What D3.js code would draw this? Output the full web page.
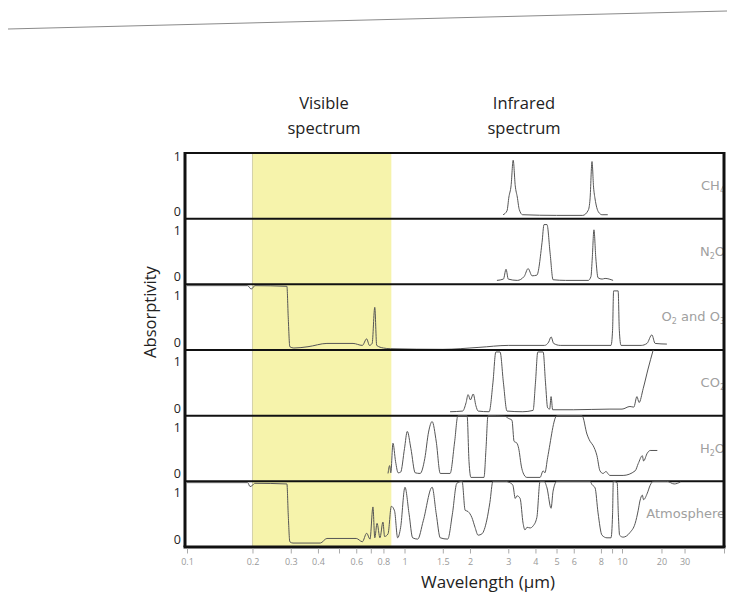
<!DOCTYPE html>
<meta charset="utf-8">
<style>
body { margin: 0; background: #fff; }
text { font-family: "Open Sans", sans-serif; }
.curve { fill: none; stroke: #555; stroke-width: 1; }
.sep { stroke: #111; stroke-width: 2; }
.ylab { font-size: 12.5px; fill: #222; }
.gas { font-family: "DejaVu Sans", sans-serif; font-size: 13px; fill: #a0a0a0; }
.xaxis text { font-size: 9px; fill: #999; }
.xaxis line { stroke: #aaa; }
</style>
<body>
<script src="https://d3js.org/d3.v7.min.js"></script>
<script>

// panels, top to bottom
var gases = ["CH4", "N2O", "O2O3", "CO2", "H2O", "Atmosphere"];

// [wavelength in um, absorptivity]
var ch4 = [[2.84,0.06],[2.96,0.12],[3.02,0.33],[3.09,0.5],[3.16,0.89],[3.23,0.5],[3.3,0.33],[3.37,0.14],[3.49,0.06],
  [5.0,0.05],[6.6,0.05],[7.0,0.13],[7.13,0.3],[7.28,0.87],[7.4,0.48],[7.52,0.3],[7.8,0.1],[8.1,0.06],[8.6,0.06]];

var n2o = [[2.66,0.06],[2.85,0.08],[2.93,0.23],[3.0,0.08],[3.3,0.06],[3.55,0.12],[3.7,0.24],[3.86,0.13],[4.06,0.14],
  [4.29,0.64],[4.38,0.91],[4.52,0.91],[4.67,0.48],[4.82,0.07],[5.5,0.06],[7.0,0.06],[7.2,0.12],[7.3,0.4],
  [7.43,0.83],[7.58,0.4],[7.76,0.1],[8.1,0.08],[8.36,0.09],[9.1,0.06]];

var o2o3 = [[0.1,0.98],[0.19,0.98],[0.197,0.93],[0.2,0.94],[0.205,0.98],[0.288,0.97],[0.292,0.5],[0.297,0.05],
  [0.31,0.03],[0.36,0.05],[0.44,0.1],[0.58,0.1],[0.64,0.07],[0.67,0.17],[0.69,0.07],[0.71,0.1],[0.73,0.65],
  [0.745,0.07],[0.8,0.03],[0.86,0.02],[1.5,0.01],[2.2,0.04],[3.0,0.07],[4.4,0.07],[4.6,0.12],[4.72,0.2],
  [4.85,0.1],[5.2,0.07],[8.9,0.07],[9.05,0.3],[9.15,0.9],[9.6,0.9],[9.72,0.3],[9.9,0.07],[14,0.07],
  [15.5,0.1],[16.9,0.23],[17.9,0.1],[22,0.09]];

var co2 = [[1.62,0.06],[1.85,0.07],[1.92,0.2],[1.96,0.32],[2.01,0.24],[2.07,0.33],[2.13,0.15],[2.18,0.07],
  [2.45,0.06],[2.55,0.5],[2.63,0.97],[2.75,0.97],[2.85,0.5],[2.96,0.07],[3.5,0.06],[3.9,0.08],[4.0,0.5],
  [4.1,0.97],[4.34,0.97],[4.45,0.5],[4.55,0.12],[4.65,0.1],[4.72,0.29],[4.8,0.09],[6,0.09],[8.8,0.1],
  [10.0,0.1],[11.5,0.14],[12.3,0.13],[13.0,0.29],[13.5,0.2],[14.5,0.41],[15.8,0.71],[17.3,1.0]];

var h2o = [[0.84,0.12],[0.855,0.24],[0.865,0.13],[0.885,0.58],[0.91,0.3],[0.935,0.13],[0.96,0.14],[1.0,0.5],
  [1.03,0.76],[1.07,0.5],[1.12,0.13],[1.18,0.12],[1.24,0.35],[1.29,0.75],[1.34,0.91],[1.40,0.6],[1.46,0.12],
  [1.62,0.12],[1.7,0.6],[1.76,1.0],[1.94,1.0],[1.98,0.3],[2.02,0.06],[2.32,0.06],[2.37,0.5],[2.42,1.0],
  [2.9,0.99],[3.0,0.96],[3.12,0.93],[3.19,0.61],[3.29,0.58],[3.35,0.5],[3.45,0.22],[3.51,0.13],[3.65,0.06],
  [4.2,0.06],[4.34,0.16],[4.42,0.13],[4.55,0.36],[5.02,1.0],[6.55,1.0],[6.9,0.72],[7.13,0.61],[7.35,0.55],
  [7.67,0.39],[7.92,0.16],[8.18,0.12],[8.45,0.15],[8.6,0.12],[8.8,0.09],[10.2,0.09],[12.6,0.16],[13.3,0.27],
  [14.3,0.39],[14.6,0.31],[15.6,0.43],[16.4,0.47],[18.6,0.47]];

var atm = [[0.1,0.98],[0.19,0.98],[0.195,0.92],[0.2,0.94],[0.205,0.97],[0.288,0.96],[0.292,0.5],[0.297,0.08],
  [0.307,0.06],[0.41,0.06],[0.44,0.13],[0.6,0.13],[0.64,0.08],[0.67,0.21],[0.694,0.12],[0.716,0.61],
  [0.73,0.14],[0.748,0.36],[0.771,0.14],[0.796,0.38],[0.81,0.16],[0.84,0.2],[0.87,0.62],[0.9,0.55],
  [0.93,0.14],[0.96,0.3],[1.005,0.91],[1.05,0.5],[1.09,0.14],[1.15,0.12],[1.22,0.4],[1.34,0.91],[1.40,0.5],
  [1.46,0.14],[1.58,0.12],[1.66,0.5],[1.74,0.97],[1.84,1.0],[1.9,0.56],[1.96,0.54],[2.04,0.45],[2.11,0.3],
  [2.18,0.18],[2.27,0.2],[2.39,0.41],[2.47,0.68],[2.55,1.0],[2.9,1.0],[3.05,0.98],[3.15,0.94],[3.23,0.74],
  [3.29,0.78],[3.4,0.74],[3.51,0.36],[3.58,0.26],[3.66,0.3],[3.78,0.29],[3.9,0.32],[4.06,0.45],[4.2,1.0],
  [4.38,1.0],[4.52,0.9],[4.72,0.59],[4.82,0.85],[5.02,1.0],[7.13,1.0],[7.28,0.95],[7.52,0.9],[7.76,0.52],
  [8.09,0.18],[8.53,0.14],[8.9,0.14],[9.05,0.5],[9.12,1.0],[9.5,0.98],[9.62,0.5],[9.75,0.18],[10.2,0.15],
  [11.5,0.22],[12.6,0.36],[13.3,0.56],[13.7,0.7],[14.3,0.79],[14.6,0.72],[15.6,0.82],[16.4,0.94],[17.3,1.0],
  [22,1.0],[25,0.96],[27.9,0.99]];

var series = [ch4, n2o, o2o3, co2, h2o, atm];

var xTickLabels = [0.1,0.2,0.3,0.4,0.6,0.8,1,1.5,2,3,4,5,6,8,10,20,30];
var xTickMinor = [0.5,0.7,9,60];
var visibleBand = [0.2, 0.87];

var W = 754, H = 614;
var plotL = 185, plotR = 724, plotT = 153, plotB = 547;

var svg = d3.select("body").append("svg")
    .attr("width", W)
    .attr("height", H);

svg.append("rect").attr("width", W).attr("height", H).attr("fill", "#fff");

// edge of the page above the figure
svg.append("line")
    .attr("x1", 8).attr("y1", 29).attr("x2", 727).attr("y2", 11)
    .attr("stroke", "#8a8a8a").attr("stroke-width", 1);

// log axis, squeezed past 10 um
var x = d3.scaleLog()
    .domain([0.1, 10, 60])
    .range([plotL + 2, 622, plotR]);

var band = d3.scaleBand()
    .domain(gases)
    .range([plotT, plotB]);

// visible spectrum band
svg.append("rect")
    .attr("x", x(visibleBand[0]))
    .attr("y", plotT)
    .attr("width", x(visibleBand[1]) - x(visibleBand[0]))
    .attr("height", plotB - plotT)
    .attr("fill", "#f6f3ab");
svg.append("line")
    .attr("x1", x(visibleBand[0])).attr("x2", x(visibleBand[0]))
    .attr("y1", plotT).attr("y2", plotB)
    .attr("stroke", "#c9c7a0").attr("stroke-width", 0.8);

var gasNames = [
  [["CH", 0], ["4", 1]],
  [["N", 0], ["2", 1], ["O", 0]],
  [["O", 0], ["2", 1], [" and O", 0], ["3", 1]],
  [["CO", 0], ["2", 1]],
  [["H", 0], ["2", 1], ["O", 0]],
  [["Atmosphere", 0]]
];

gases.forEach(function(g, i) {
  var y0 = band(g), y1 = y0 + band.bandwidth();
  var y = d3.scaleLinear().domain([0, 1]).range([y1, y0]);

  var line = d3.line()
      .x(function(d) { return x(d[0]); })
      .y(function(d) { return y(d[1]); })
      .curve(d3.curveMonotoneX);

  svg.append("path")
      .datum(series[i])
      .attr("class", "curve")
      .attr("d", line);

  var t = svg.append("text")
      .attr("class", "gas")
      .attr("x", plotR + 1)
      .attr("y", (y0 + y1) / 2 + 4)
      .attr("text-anchor", "end");
  gasNames[i].forEach(function(p, k) {
    t.append("tspan")
      .text(p[0])
      .attr("font-size", p[1] ? "8px" : null)
      .attr("dy", p[1] ? 3 : (k > 0 ? -3 : 0));
  });

  // 0 and 1 labels
  svg.append("text").attr("class", "ylab")
      .attr("x", 181).attr("y", y1 - 3)
      .attr("text-anchor", "end").text("0");
  svg.append("text").attr("class", "ylab")
      .attr("x", 181).attr("y", i === 0 ? y0 + 8 : y0 + 16)
      .attr("text-anchor", "end").text("1");

  if (i < gases.length - 1) {
    svg.append("line").attr("class", "sep")
        .attr("x1", plotL).attr("x2", plotR)
        .attr("y1", y1).attr("y2", y1);
  }
});

// frame
svg.append("line").attr("x1", plotL).attr("x2", plotR).attr("y1", plotT).attr("y2", plotT)
    .attr("stroke", "#111").attr("stroke-width", 2);
svg.append("line").attr("x1", plotL - 1.5).attr("x2", plotR + 1.5).attr("y1", plotB).attr("y2", plotB)
    .attr("stroke", "#111").attr("stroke-width", 3);
svg.append("line").attr("x1", plotL).attr("x2", plotL).attr("y1", plotT - 1).attr("y2", plotB)
    .attr("stroke", "#111").attr("stroke-width", 3);
svg.append("line").attr("x1", plotR).attr("x2", plotR).attr("y1", plotT - 1).attr("y2", plotB)
    .attr("stroke", "#111").attr("stroke-width", 3);

// x axis
var xAxis = d3.axisBottom(x)
    .tickValues(xTickLabels.concat(xTickMinor))
    .tickSize(5)
    .tickPadding(5)
    .tickFormat(function(d) { return xTickLabels.indexOf(d) >= 0 ? String(d) : ""; });

svg.append("g")
    .attr("class", "xaxis")
    .attr("transform", "translate(0," + (plotB + 1.5) + ")")
    .call(xAxis)
    .call(function(g) { g.select(".domain").remove(); });

// titles
svg.append("text")
    .attr("x", 488)
    .attr("y", 588)
    .attr("text-anchor", "middle")
    .style("font-size", "17px").style("fill", "#222")
    .text("Wavelength (\u00b5m)");

svg.append("text")
    .attr("transform", "rotate(-90)")
    .attr("x", -312)
    .attr("y", 156)
    .attr("text-anchor", "middle")
    .style("font-size", "16.5px").style("fill", "#222")
    .text("Absorptivity");

[["Visible", "spectrum", 324], ["Infrared", "spectrum", 524]].forEach(function(h) {
  var t = svg.append("text")
      .attr("text-anchor", "middle")
      .style("font-size", "16.5px").style("fill", "#222");
  t.append("tspan").attr("x", h[2]).attr("y", 109).text(h[0]);
  t.append("tspan").attr("x", h[2]).attr("y", 134).text(h[1]);
});

</script>
</body>
